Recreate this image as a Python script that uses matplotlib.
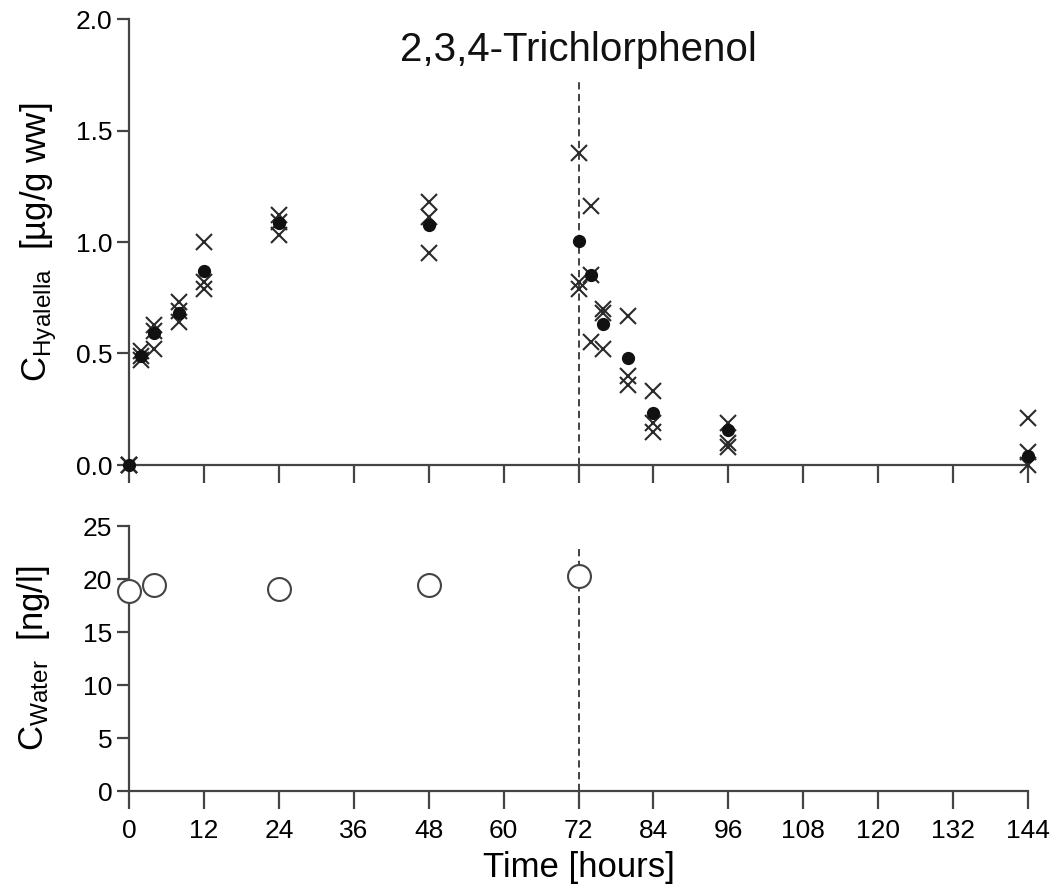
import matplotlib
matplotlib.use("Agg")
import matplotlib.pyplot as plt
import numpy as np

plt.rcParams['font.family'] = ['Liberation Sans', 'DejaVu Sans']
plt.rcParams['mathtext.default'] = 'regular'

# ---- data ----
title = "2,3,4-Trichlorphenol"
times_mean = [0, 2, 4, 8, 12, 24, 48, 72, 74, 76, 80, 84, 96, 144]
hyalella_mean = [0.0, 0.49, 0.59, 0.68, 0.87, 1.085, 1.076, 1.004, 0.852, 0.632, 0.48, 0.233, 0.157, 0.04]

rep_times = [0, 0, 0, 2, 2, 2, 4, 4, 4, 8, 8, 8, 12, 12, 12, 24, 24, 24,
             48, 48, 48, 72, 72, 72, 74, 74, 74, 76, 76, 76, 80, 80, 80,
             84, 84, 84, 96, 96, 96, 144, 144, 144]
rep_values = [0.0, 0.0, 0.0, 0.51, 0.47, 0.49, 0.63, 0.60, 0.52, 0.73, 0.69, 0.64,
              1.00, 0.82, 0.79, 1.12, 1.09, 1.03,
              1.18, 1.11, 0.95, 1.40, 0.82, 0.79, 1.16, 0.85, 0.55, 0.70, 0.68, 0.52,
              0.67, 0.40, 0.36, 0.33, 0.19, 0.15, 0.19, 0.10, 0.08, 0.21, 0.06, 0.00]

water_times = [0, 4, 24, 48, 72]
water_values = [18.9, 19.4, 19.1, 19.4, 20.3]

xticks = list(range(0, 145, 12))
top_yticks = [0.0, 0.5, 1.0, 1.5, 2.0]
bot_yticks = [0, 5, 10, 15, 20, 25]
switch_time = 72

axis_col = '#444444'
fig = plt.figure(figsize=(10.51, 8.96), dpi=100)
ax1 = fig.add_axes([129/1051, 1-465/896, 899/1051, 446/896])
ax2 = fig.add_axes([129/1051, 1-791/896, 899/1051, 265/896])

for ax in (ax1, ax2):
    ax.spines['top'].set_visible(False)
    ax.spines['right'].set_visible(False)
    for s in ('left', 'bottom'):
        ax.spines[s].set_color(axis_col)
        ax.spines[s].set_linewidth(1.6)
    ax.set_xlim(0, 144)
    ax.set_xticks(xticks)
    ax.tick_params(axis='x', direction='out', length=13, width=1.6, color=axis_col,
                   labelsize=19, pad=7)
    ax.tick_params(axis='y', direction='out', length=9, width=1.6, color=axis_col,
                   labelsize=19, pad=3)

# top panel
ax1.set_ylim(0, 2.0)
ax1.set_yticks(top_yticks)
ax1.set_yticklabels([f"{v:.1f}" for v in top_yticks])
ax1.tick_params(axis='x', labelbottom=False)
ax1.plot([switch_time, switch_time], [0, 1.72], linestyle=(0, (4, 2.5)), color='#333333',
         linewidth=1.3, zorder=1)
ax1.plot(rep_times, rep_values, linestyle='none', marker='x', markersize=12,
         markeredgewidth=1.5, color='#2a2a2a', clip_on=False, zorder=3)
ax1.plot(times_mean, hyalella_mean, linestyle='none', marker='o', markersize=8.5,
         color='#111111', clip_on=False, zorder=4)
ax1.text(0.5, 0.93, title, transform=ax1.transAxes, ha='center', va='center',
         fontsize=29, color='#111111')
ax1.set_ylabel("C$_{Hyalella}$  [µg/g ww]", fontsize=25, labelpad=12)

# bottom panel
ax2.set_ylim(0, 25)
ax2.set_yticks(bot_yticks)
ax2.plot([switch_time, switch_time], [0, 23], linestyle=(0, (4, 2.5)), color='#333333',
         linewidth=1.3, zorder=1)
ax2.plot(water_times, water_values, linestyle='none', marker='o', markersize=16.5,
         markerfacecolor='white', markeredgecolor='#444444', markeredgewidth=1.5,
         clip_on=False, zorder=3)
ax2.set_ylabel("C$_{Water}$  [ng/l]", fontsize=25, labelpad=22)
ax2.set_xlabel("Time [hours]", fontsize=25, labelpad=6)

fig.savefig("out.png", dpi=100)
